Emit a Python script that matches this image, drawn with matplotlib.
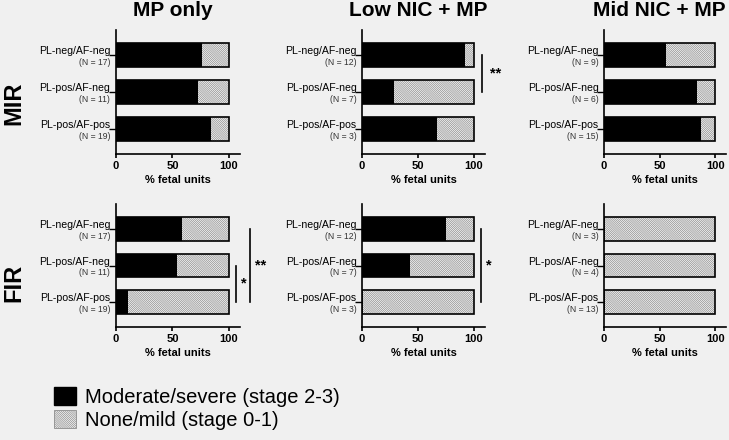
import matplotlib.pyplot as plt
from matplotlib.patches import Patch

plt.rcParams['font.family'] = ['Liberation Sans', 'DejaVu Sans']
plt.rcParams['hatch.linewidth'] = 0.5
plt.rcParams['hatch.color'] = '#8c8c8c'

BG = '#f0f0f0'
HATCH = '\\' * 16

groups = ["MP only", "Low NIC + MP", "Mid NIC + MP"]
rows = ["MIR", "FIR"]
categories = ["PL-neg/AF-neg", "PL-pos/AF-neg", "PL-pos/AF-pos"]

# N per category for each group
n_mp = [17, 11, 19]
n_low = [12, 7, 3]
n_mid = [9, 6, 15]
n_mid_fir = [3, 4, 13]

# % fetal units with moderate/severe (stage 2-3)
mir_mp = [76.5, 72.7, 84.2]
mir_low = [91.7, 28.6, 66.7]
mir_mid = [55.6, 83.3, 86.7]
fir_mp = [58.8, 54.5, 10.5]
fir_low = [75.0, 42.9, 0.0]
fir_mid = [0.0, 0.0, 0.0]

values = [[mir_mp, mir_low, mir_mid], [fir_mp, fir_low, fir_mid]]
ns = [[n_mp, n_low, n_mid], [n_mp, n_low, n_mid_fir]]

# significance brackets: (row, col, y0, y1, x line, text x, text y, label)
sig = [
    (0, 1, 0, 1, 107, 114, 0.5, "**"),
    (1, 0, 1, 2, 106, 110.5, 1.5, "*"),
    (1, 0, 0, 2, 118.5, 123, 1.0, "**"),
    (1, 1, 0, 2, 106, 111, 1.0, "*"),
]

fig = plt.figure(figsize=(7.29, 4.40), dpi=100, facecolor=BG)

lefts = [0.159, 0.4966, 0.8285]
widths = [0.1705, 0.169, 0.168]
bottoms = [0.65, 0.2568]
heights = [0.2818, 0.2795]

axes = {}
for r in range(2):
    for c in range(3):
        ax = fig.add_axes([lefts[c], bottoms[r], widths[c], heights[r]])
        ax.set_facecolor(BG)
        axes[(r, c)] = ax
        vals = values[r][c]
        ypos = list(range(len(categories)))
        rest = [100 - v for v in vals]
        ax.barh(ypos, vals, height=0.65, color='black', edgecolor='black', linewidth=0)
        ax.barh(ypos, rest, left=vals, height=0.65, color='#fafafa', hatch=HATCH,
                edgecolor='#8c8c8c', linewidth=0)
        ax.barh(ypos, [100] * 3, height=0.65, fill=False, edgecolor='black', linewidth=1.2)
        ax.set_xlim(0, 110)
        ax.set_ylim(2.68, -0.68)
        ax.spines['top'].set_visible(False)
        ax.spines['right'].set_visible(False)
        ax.spines['left'].set_linewidth(1.2)
        ax.spines['bottom'].set_linewidth(1.2)
        ax.set_xticks([0, 50, 100])
        ax.set_xticklabels(['0', '50', '100'], fontweight='bold', fontsize=8)
        ax.tick_params(axis='x', length=3, width=1.2, pad=2)
        ax.set_yticks(ypos)
        ax.set_yticklabels([''] * 3)
        ax.tick_params(axis='y', length=5, width=1.0)
        ax.set_xlabel('% fetal units', fontweight='bold', fontsize=8, labelpad=3)
        trans = ax.get_yaxis_transform()
        for i, cat in enumerate(categories):
            ax.text(-0.045, i - 0.1, cat, transform=trans, ha='right', va='center', fontsize=7.6)
            ax.text(-0.045, i + 0.2, f"(N = {ns[r][c][i]})", transform=trans, ha='right',
                    va='center', fontsize=6.2, color='#333333')
        if r == 0:
            ax.text(50, 1.155, groups[c], transform=ax.get_xaxis_transform(), ha='center',
                    va='center', fontsize=15, fontweight='bold')

for r, c, y0, y1, xl, xt, yt, lab in sig:
    ax = axes[(r, c)]
    ax.plot([xl, xl], [y0, y1], color='black', linewidth=1.2, clip_on=False)
    ax.text(xt, yt, lab, ha='left', va='center', fontsize=10.5, fontweight='bold', clip_on=False)

fig.text(0.019, 1 - 103 / 440, 'MIR', rotation=90, ha='center', va='center', fontsize=17,
         fontweight='bold')
fig.text(0.019, 1 - 283 / 440, 'FIR', rotation=90, ha='center', va='center', fontsize=17,
         fontweight='bold')

handles = [Patch(facecolor='black', edgecolor='black'),
           Patch(facecolor='#fafafa', edgecolor='#8c8c8c', hatch=HATCH, linewidth=0.6)]
fig.legend(handles, ['Moderate/severe (stage 2-3)', 'None/mild (stage 0-1)'],
           loc='upper left', bbox_to_anchor=(0.074, 0.12), frameon=False, fontsize=14.5,
           handlelength=1.1, handleheight=1.0, handletextpad=0.45, labelspacing=0.15,
           borderaxespad=0, borderpad=0)

fig.savefig('out.png', dpi=100, facecolor=BG)
